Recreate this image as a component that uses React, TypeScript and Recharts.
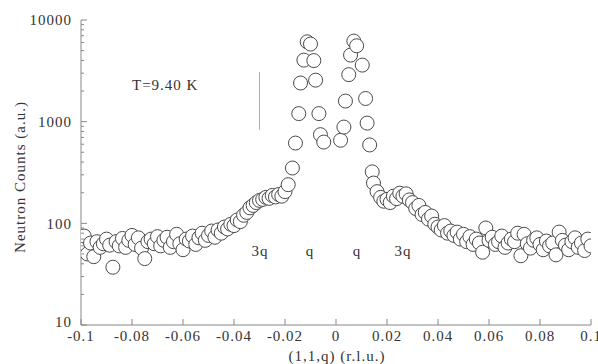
import React from "react";
import { ScatterChart, Scatter, XAxis, YAxis, ReferenceLine } from "recharts";

// wings are a regular q scan, peak points have their own q
const wingStep = 0.00125;
const leftWingStart = -0.1;
const leftWing = [
  60, 75, 50, 64, 47, 66, 58, 63, 70, 61,
  37, 66, 60, 71, 58, 68, 76, 62, 72, 57,
  45, 66, 70, 63, 74, 60, 68, 73, 58, 66,
  78, 63, 55, 70, 67, 75, 62, 72, 80, 68,
  76, 84, 73, 86, 80, 92, 88, 98, 95, 108,
  104, 120, 128, 142, 150, 160, 168, 172, 180, 176,
  188, 182, 192, 185, 205, 240,
];
const rightWingStart = 0.0175;
const rightWing = [
  180, 165, 172, 160, 185, 175, 198, 185, 195, 170,
  160, 140, 150, 122, 128, 110, 118, 98, 92, 86,
  95, 80, 84, 76, 82, 70, 78, 66, 74, 62,
  70, 64, 52, 90, 68, 73, 62, 66, 75, 58,
  64, 70, 66, 80, 48, 78, 63, 57, 68, 72,
  62, 55, 67, 60, 64, 49, 82, 68, 61, 55,
  66, 72, 58, 64, 54, 70, 60,
];
const leftPeakQ = [-0.0171, -0.0159, -0.0146, -0.0139, -0.0126, -0.0113, -0.01, -0.0087, -0.008, -0.0067, -0.0061, -0.0048];
const leftPeakCounts = [350, 616, 1200, 2400, 4030, 6100, 5800, 3990, 2560, 1200, 745, 630];
const rightPeakQ = [0.0018, 0.0031, 0.0037, 0.005, 0.0057, 0.007, 0.0081, 0.0103, 0.0116, 0.0122, 0.0132, 0.0142, 0.0147, 0.0161];
const rightPeakCounts = [656, 885, 1595, 2900, 4520, 6200, 5580, 3600, 1690, 968, 590, 321, 249, 205];

const xTicks = [-0.1, -0.08, -0.06, -0.04, -0.02, 0, 0.02, 0.04, 0.06, 0.08, 0.1];
const yMajor = [10, 100, 1000, 10000];
const yTicks = [
  10, 20, 30, 40, 50, 60, 70, 80, 90,
  100, 200, 300, 400, 500, 600, 700, 800, 900,
  1000, 2000, 3000, 4000, 5000, 6000, 7000, 8000, 9000, 10000,
];

const data = [
  ...leftWing.map((c, i) => ({ q: leftWingStart + i * wingStep, counts: c })),
  ...leftPeakQ.map((q, i) => ({ q, counts: leftPeakCounts[i] })),
  ...rightPeakQ.map((q, i) => ({ q, counts: rightPeakCounts[i] })),
  ...rightWing.map((c, i) => ({ q: rightWingStart + i * wingStep, counts: c })),
];

const font = "'Liberation Serif', 'Times New Roman', serif";
const frame = "#888";
const ink = "#333";

const LeftTick = (props: any) => {
  const { x, y, payload } = props;
  const major = yMajor.includes(payload.value);
  const ax = x + 9;
  return (
    <g>
      <line x1={ax} x2={ax + (major ? 6 : 3)} y1={y} y2={y} stroke={frame} />
      {major && (
        <text
          x={x}
          y={payload.value === 10 ? y - 3 : y}
          dy="0.35em"
          textAnchor="end"
          fill={ink}
          fontSize={15}
          fontFamily={font}
          letterSpacing={1}
        >
          {payload.value}
        </text>
      )}
    </g>
  );
};

const RightTick = (props: any) => {
  const { x, y, payload } = props;
  const major = yMajor.includes(payload.value);
  return <line x1={x} x2={x - (major ? 6 : 3)} y1={y} y2={y} stroke={frame} />;
};

const Ring = (p: any) => <circle cx={p.cx} cy={p.cy} r={7} fill="#fff" stroke="#4a4a4a" strokeWidth={1} />;

const label = (text: string, left: number, top: number, extra: React.CSSProperties = {}) => (
  <div
    style={{
      position: "absolute",
      left,
      top,
      fontFamily: font,
      fontSize: 15,
      lineHeight: "15px",
      letterSpacing: 1,
      color: ink,
      whiteSpace: "nowrap",
      ...extra,
    }}
  >
    {text}
  </div>
);

export default function App() {
  return (
    <div style={{ position: "absolute", left: 0, top: 0, width: 598, height: 364, background: "#fff", overflow: "hidden" }}>
      <ScatterChart width={598} height={364} margin={{ top: 20, right: 7, bottom: 9, left: 21 }}>
        <XAxis
          type="number"
          dataKey="q"
          domain={[-0.1, 0.1]}
          ticks={xTicks}
          interval={0}
          tickSize={-6}
          tickMargin={11}
          height={30}
          stroke={frame}
          tick={{ fill: ink, fontSize: 15, fontFamily: font, letterSpacing: 1 }}
          allowDataOverflow
        />
        <XAxis
          xAxisId="top"
          orientation="top"
          type="number"
          domain={[-0.1, 0.1]}
          ticks={xTicks}
          interval={0}
          tickSize={-6}
          height={0}
          stroke={frame}
          tickFormatter={() => ""}
          allowDataOverflow
        />
        <YAxis
          type="number"
          dataKey="counts"
          scale="log"
          domain={[10, 10000]}
          ticks={yTicks}
          interval={0}
          width={60}
          tickSize={0}
          tickMargin={9}
          tickLine={false}
          stroke={frame}
          tick={LeftTick}
          allowDataOverflow
        />
        <YAxis
          yAxisId="right"
          orientation="right"
          type="number"
          scale="log"
          domain={[10, 10000]}
          ticks={yTicks}
          interval={0}
          width={0}
          tickSize={0}
          tickMargin={0}
          tickLine={false}
          stroke={frame}
          tick={RightTick}
          allowDataOverflow
        />
        <ReferenceLine
          segment={[{ x: -0.03, y: 3080 }, { x: -0.03, y: 830 }]}
          stroke="#aaa"
          strokeWidth={1}
        />
        <Scatter data={data} shape={Ring} isAnimationActive={false} />
      </ScatterChart>

      {label("Neutron Counts (a.u.)", 20, 177, {
        transform: "translate(-50%, -50%) rotate(-90deg)",
      })}
      {label("(1,1,q) (r.l.u.)", 337, 349, { transform: "translateX(-50%)" })}
      {label("T=9.40 K", 132, 78)}
      {label("3q", 260, 244, { transform: "translateX(-50%)" })}
      {label("q", 310, 244, { transform: "translateX(-50%)" })}
      {label("q", 357, 244, { transform: "translateX(-50%)" })}
      {label("3q", 403, 244, { transform: "translateX(-50%)" })}
    </div>
  );
}
